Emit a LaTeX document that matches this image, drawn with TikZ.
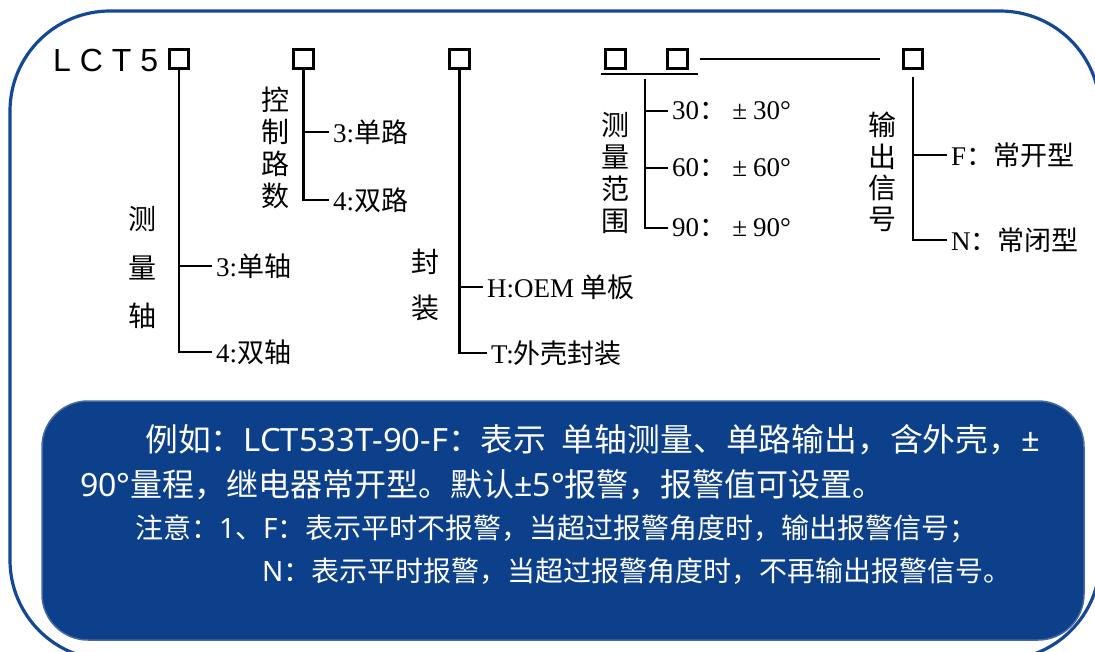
\documentclass[tikz,border=0pt]{standalone}
\usepackage{fontspec}
\usepackage{graphicx}
\usepackage{tikz}
\setmainfont{Liberation Serif}
\newfontfamily\cjk{Noto Sans CJK SC}
\newfontfamily\latinsans{Noto Sans}
\newfontfamily\lctfont{Liberation Sans}
\definecolor{frameblue}{RGB}{20,72,148}
\definecolor{noteblue}{RGB}{13,64,139}
\definecolor{noteedge}{RGB}{72,104,160}

\begin{document}
\begin{tikzpicture}[x=1pt, y=-1pt,
    codebox/.style={draw, line width=2.6pt, minimum size=19.5pt, inner sep=0pt},
    branch/.style={line width=2.4pt},
    opt/.style={anchor=west, inner xsep=4pt, inner ysep=0pt, font=\fontsize{27}{27}\selectfont},
    vlabel/.style={align=center, inner sep=0pt},
    noteline/.style={anchor=base west, inner sep=0pt, text=white}]
    \clip (0,0) rectangle (1095,651);

    % Outer frame
    \draw[frameblue, line width=3.2pt, rounded corners=100pt] (10,11) rectangle (1100,660);

    % Model code and its boxes
    \node[anchor=west, inner sep=0pt, font=\lctfont\fontsize{32}{32}\selectfont] (model) at (53,60) {L C T 5};
    \foreach \n/\x in {b1/179, b2/303.5, b3/459.5, b4/615.5, b5/677.5, b6/913}
        \node[codebox] (\n) at (\x,59) {};
    \coordinate (ulL) at (601,74);
    \coordinate (ulR) at (698,74);
    \draw[line width=2.8pt] (ulL) -- (ulR);
    \draw[line width=2pt] ([xshift=11pt]b5.east) -- ([xshift=-22pt]b6.west);

    % Measuring axes
    \node[vlabel, font=\cjk\fontsize{28}{48.5}\selectfont] (axis) at (142,268) {测\\量\\轴};
    \node[opt] (ax3) at (212,266) {3:{\cjk 单轴}};
    \node[opt] (ax4) at (212,352) {4:{\cjk 双轴}};
    \draw[branch] (b1.south) |- (ax4.west);
    \draw[branch] (b1.south |- ax3.west) -- (ax3.west);

    % Control channels
    \node[vlabel, font=\cjk\fontsize{28}{32}\selectfont] (chan) at (275,148) {控\\制\\路\\数};
    \node[opt] (ch3) at (329,132) {3:{\cjk 单路}};
    \node[opt] (ch4) at (329,200) {4:{\cjk 双路}};
    \draw[branch] (b2.south) |- (ch4.west);
    \draw[branch] (b2.south |- ch3.west) -- (ch3.west);

    % Package
    \node[vlabel, font=\cjk\fontsize{28}{46}\selectfont] (pack) at (425,285) {封\\装};
    \node[opt] (pkH) at (483,287) {H:OEM {\cjk 单板}};
    \node[opt] (pkT) at (487,353) {T:{\cjk 外壳封装}};
    \draw[branch] (b3.south) |- (pkT.west);
    \draw[branch] (b3.south |- pkH.west) -- (pkH.west);

    % Measuring range
    \node[vlabel, font=\cjk\fontsize{28}{32}\selectfont] (range) at (615,173) {测\\量\\范\\围};
    \coordinate (rng) at (645,79);
    \node[opt] (r30) at (668,111) {30{\cjk ：}\makebox[1em]{±}30°};
    \node[opt] (r60) at (668,168) {60{\cjk ：}\makebox[1em]{±}60°};
    \node[opt] (r90) at (668,228) {90{\cjk ：}\makebox[1em]{±}90°};
    \draw[branch] (rng) |- (r90.west);
    \foreach \n in {r30,r60}
        \draw[branch] (rng |- \n.west) -- (\n.west);

    % Output signal
    \node[vlabel, font=\cjk\fontsize{28}{31.3}\selectfont] (sig) at (882,172) {输\\出\\信\\号};
    \node[opt] (sF) at (947,155) {F{\cjk ：常开型}};
    \node[opt] (sN) at (947,240) {N{\cjk ：常闭型}};
    \draw[branch] ([yshift=-7pt]b6.south) |- (sN.west);
    \draw[branch] (b6.south |- sF.west) -- (sF.west);

    % Example and notes
    \draw[fill=noteblue, draw=noteedge, line width=1.5pt, rounded corners=46pt] (42,401) rectangle (1084,640);
    \node[noteline, font=\cjk\fontsize{32}{32}\selectfont] (ex1) at (145,451)
        {\resizebox{895pt}{\height}{例如：{\latinsans LCT533T-90-F}：表示\hspace{15pt}单轴测量、单路输出，含外壳，{\latinsans ±}}};
    \node[noteline, font=\cjk\fontsize{32}{32}\selectfont] (ex2) at (80,496)
        {{\latinsans 90°}量程，继电器常开型。默认{\latinsans ±5°}报警，报警值可设置。};
    \node[noteline, font=\cjk\fontsize{28}{28}\selectfont] (nt1) at (135,538)
        {注意：{\latinsans 1}、{\latinsans F}：表示平时不报警，当超过报警角度时，输出报警信号；};
    \node[noteline, font=\cjk\fontsize{28}{28}\selectfont] (nt2) at (262,581)
        {{\latinsans N}：表示平时报警，当超过报警角度时，不再输出报警信号。};
\end{tikzpicture}
\end{document}
